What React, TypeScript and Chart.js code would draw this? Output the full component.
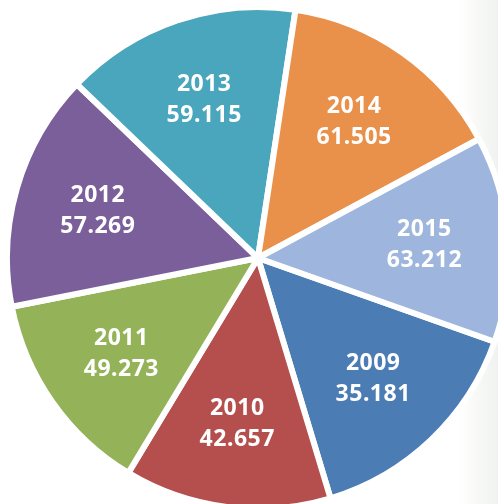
import React, { useEffect, useRef } from "react";
import { Chart, registerables } from "chart.js";

Chart.register(...registerables);

// Categories (years), clockwise starting from the right side
const years = ["2009", "2010", "2011", "2012", "2013", "2014", "2015"];
// Values printed inside the slices
const values = [35.181, 42.657, 49.273, 57.269, 59.115, 61.505, 63.212];
// Slice sizes as drawn in the picture (degrees of arc)
const sliceDegrees = [53.7, 47.9, 47.7, 55.0, 54.8, 53.1, 47.8];
// Slice colours
const colors = ["#4B7CB4", "#B54F4D", "#94B257", "#7A5F9A", "#4AA6BC", "#E9904A", "#9EB6DD"];

const labelPlugin = {
  id: "sliceLabels",
  afterDatasetsDraw(chart: any) {
    const ctx = chart.ctx;
    const meta = chart.getDatasetMeta(0);
    ctx.save();
    ctx.fillStyle = "#ffffff";
    ctx.font = "bold 23px 'Noto Sans'";
    ctx.textAlign = "center";
    ctx.textBaseline = "middle";
    try { (ctx as any).letterSpacing = "0.5px"; } catch (e) {}
    meta.data.forEach((arc: any, i: number) => {
      const p = arc.getProps(["x", "y", "startAngle", "endAngle", "outerRadius"], true);
      const mid = (p.startAngle + p.endAngle) / 2;
      const r = p.outerRadius * 0.665;
      const cx = p.x + Math.cos(mid) * r;
      const cy = p.y + Math.sin(mid) * r;
      ctx.fillText(years[i], cx, cy - 15.5);
      ctx.fillText(values[i].toFixed(3), cx, cy + 15.5);
    });
    ctx.restore();
  },
};

export default function App() {
  const ref = useRef<HTMLCanvasElement | null>(null);
  useEffect(() => {
    if (!ref.current) return;
    const chart = new Chart(ref.current, {
      type: "pie",
      data: {
        labels: years,
        datasets: [
          {
            data: sliceDegrees,
            backgroundColor: colors,
            borderColor: "#ffffff",
            borderWidth: 6,
          },
        ],
      },
      options: {
        responsive: false,
        maintainAspectRatio: false,
        animation: false,
        rotation: 109.5,
        radius: 251,
        layout: { padding: 0 },
        plugins: {
          legend: { display: false },
          tooltip: { enabled: false },
        },
      },
      plugins: [labelPlugin],
    } as any);
    return () => chart.destroy();
  }, []);
  return (
    <div
      style={{
        position: "fixed",
        inset: 0,
        overflow: "hidden",
        background:
          "linear-gradient(to right, rgba(255,255,255,0) 92%, rgba(225,230,222,0.5) 100%), #ffffff",
      }}
    >
      <canvas
        ref={ref}
        width={516}
        height={516}
        style={{ position: "absolute", left: 0, top: 0, width: 516, height: 516 }}
      />
    </div>
  );
}
